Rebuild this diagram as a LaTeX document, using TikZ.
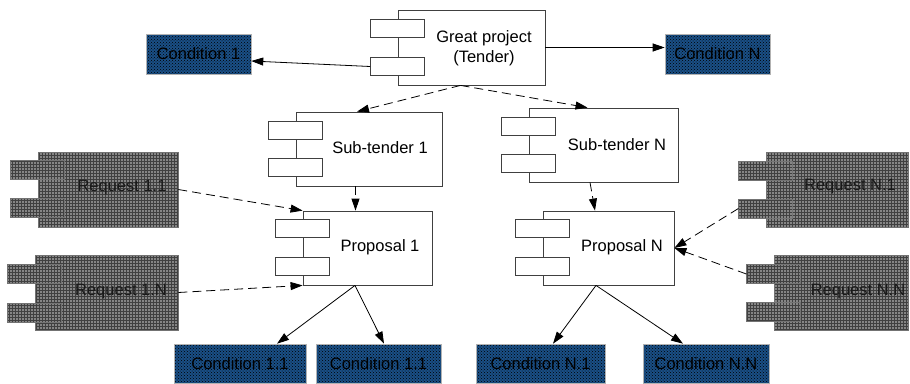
\documentclass[tikz,border=0pt]{standalone}
\usepackage{fontspec}
\setmainfont{Liberation Sans}
\usetikzlibrary{arrows.meta,patterns}
\definecolor{condblue}{HTML}{1A4F86}
\definecolor{reqgray}{HTML}{858585}
\definecolor{edgegray}{HTML}{404040}
\begin{document}
\begin{tikzpicture}[x=1pt,y=-1pt,
  every node/.style={font=\fontsize{16.5}{20}\selectfont},
  comp/.style={draw=edgegray, line width=0.8pt, fill=white, inner sep=0pt},
  port/.style={draw=edgegray, line width=0.8pt, fill=white, minimum width=54pt, minimum height=18pt, inner sep=0pt},
  reqbox/.style={draw=black!55, line width=0.6pt, preaction={fill=reqgray}, pattern=grid, pattern color=black!75, inner sep=0pt},
  reqport/.style={reqbox, minimum width=54pt, minimum height=19pt},
  cond/.style={draw=gray!60, line width=0.6pt, preaction={fill=condblue}, pattern=crosshatch dots, pattern color=black, inner sep=0pt},
  lbl/.style={align=center, inner sep=0pt},
  reqlbl/.style={lbl, text=black!90},
  solidarrow/.style={draw=black, line width=0.8pt, -{Triangle[length=12pt,width=8pt]}},
  dasharrow/.style={solidarrow, dash pattern=on 9pt off 5pt}]
\useasboundingbox (0,0) rectangle (910,383);

% Great project
\node[comp, minimum width=147pt, minimum height=75pt] (great) at (471.5,47.5) {};
\node[port] (greatpa) at ([yshift=19pt]great.west) {};
\node[port] (greatpb) at ([yshift=-19pt]great.west) {};
\node[lbl] (greatt) at (484,48) {Great project\\(Tender)};

% Sub-tender 1
\node[comp, minimum width=146pt, minimum height=74pt] (sub1) at (369,149) {};
\node[port] (sub1pa) at ([yshift=19pt]sub1.west) {};
\node[port] (sub1pb) at ([yshift=-18pt]sub1.west) {};
\node[lbl] (sub1t) at (380,148) {Sub-tender 1};

% Sub-tender N
\node[comp, minimum width=149pt, minimum height=74pt] (subN) at (603.5,145) {};
\node[port] (subNpa) at ([yshift=18.5pt]subN.west) {};
\node[port] (subNpb) at ([yshift=-18.5pt]subN.west) {};
\node[lbl] (subNt) at (617,145) {Sub-tender N};

% Proposal 1
\node[comp, minimum width=129pt, minimum height=74pt] (prop1) at (367.5,248) {};
\node[port] (prop1pa) at ([yshift=19.5pt]prop1.west) {};
\node[port] (prop1pb) at ([yshift=-18.5pt]prop1.west) {};
\node[lbl] (prop1t) at (380,247) {Proposal 1};

% Proposal N
\node[comp, minimum width=131pt, minimum height=74pt] (propN) at (608.5,248) {};
\node[port] (propNpa) at ([yshift=19.5pt]propN.west) {};
\node[port] (propNpb) at ([yshift=-18.5pt]propN.west) {};
\node[lbl] (propNt) at (622,247) {Proposal N};

% Requests
\node[reqbox, minimum width=140pt, minimum height=75pt] (req11) at (108,189.5) {};
\node[reqport] (req11pa) at ([yshift=19.5pt]req11.west) {};
\node[reqport] (req11pb) at ([yshift=-18.5pt]req11.west) {};
\node[reqlbl] (req11t) at (122,188) {Request 1.1};

\node[reqbox, minimum width=143pt, minimum height=75pt] (req1N) at (106.5,292.5) {};
\node[reqport] (req1Npa) at ([yshift=18.5pt]req1N.west) {};
\node[reqport] (req1Npb) at ([yshift=-20pt]req1N.west) {};
\node[reqlbl] (req1Nt) at (121,292) {Request 1.N};

\node[reqbox, minimum width=142pt, minimum height=75pt] (reqN1) at (837,189.5) {};
\node[reqport] (reqN1pa) at ([yshift=18.5pt]reqN1.west) {};
\node[reqport] (reqN1pb) at ([yshift=-19pt]reqN1.west) {};
\node[reqlbl] (reqN1t) at (850,187) {Request N.1};

\node[reqbox, minimum width=134pt, minimum height=75pt] (reqNN) at (841,292.5) {};
\node[reqport] (reqNNpa) at ([yshift=18.5pt]reqNN.west) {};
\node[reqport] (reqNNpb) at ([yshift=-19pt]reqNN.west) {};
\node[reqlbl] (reqNNt) at (858,292) {Request N.N};

% Conditions
\node[cond, minimum width=105pt, minimum height=40pt] (cond1) at (198.5,54) {Condition 1};
\node[cond, minimum width=105pt, minimum height=40pt] (condN) at (717.5,54) {Condition N};
\node[cond, minimum width=132pt, minimum height=39pt] (c11a) at (240,363.5) {Condition 1.1};
\node[cond, minimum width=125pt, minimum height=39pt] (c11b) at (378.5,363.5) {Condition 1.1};
\node[cond, minimum width=129pt, minimum height=39pt] (cN1) at (540.5,363.5) {Condition N.1};
\node[cond, minimum width=126pt, minimum height=39pt] (cNN) at (706,363.5) {Condition N.N};

% Connectors
\draw[solidarrow] (greatpb.west) -- ([yshift=-7pt]cond1.east);
\draw[solidarrow] (great.east) -- (great.east -| condN.west);
\draw[dasharrow] ([xshift=-11pt]great.south) -- ([xshift=-12pt]sub1.north);
\draw[dasharrow] ([xshift=-11pt]great.south) -- ([xshift=-16pt]subN.north);
\coordinate (p1in) at ([xshift=-12pt]prop1.north);
\draw[dasharrow] (sub1.south -| p1in) -- (p1in);
\draw[dasharrow] ([xshift=-13.5pt]subN.south) -- ([xshift=-13.5pt]propN.north);
\draw[dasharrow] (req11.east) -- (prop1.north west);
\draw[dasharrow] (req1N.east) -- (prop1.south west);
\draw[dasharrow] (reqN1pb.west) -- (propN.east);
\draw[dasharrow] (reqNNpa.west) -- (propN.east);
\draw[solidarrow] ([xshift=-12.5pt]prop1.south) -- ([xshift=37pt]c11a.north);
\draw[solidarrow] ([xshift=-12.5pt]prop1.south) -- ([xshift=5.5pt]c11b.north);
\draw[solidarrow] ([xshift=-12.5pt]propN.south) -- ([xshift=12.5pt]cN1.north);
\draw[solidarrow] ([xshift=-12.5pt]propN.south) -- ([xshift=-23pt]cNN.north);
\end{tikzpicture}
\end{document}
